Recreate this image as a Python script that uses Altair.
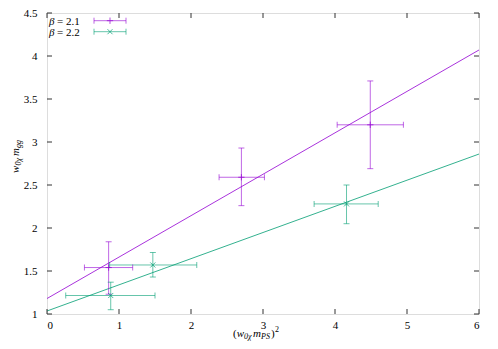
import altair as alt
import pandas as pd

# ---- data ----
labels = ["β = 2.1", "β = 2.2"]
colors = ["#9400d3", "#009e73"]

x_a = [0.856, 2.70, 4.49]
y_a = [1.54, 2.59, 3.20]
xlo_a = [0.52, 2.39, 4.03]
xhi_a = [1.19, 3.02, 4.95]
ylo_a = [1.23, 2.26, 2.69]
yhi_a = [1.84, 2.93, 3.71]

x_b = [0.885, 1.47, 4.16]
y_b = [1.215, 1.57, 2.28]
xlo_b = [0.26, 0.87, 3.71]
xhi_b = [1.50, 2.08, 4.60]
ylo_b = [1.05, 1.43, 2.05]
yhi_b = [1.37, 1.715, 2.50]

fit_x = [0, 6]
fit_a = [1.18, 4.07]
fit_b = [1.035, 2.86]

x_ticks = [0, 1, 2, 3, 4, 5, 6]
y_ticks = [1, 1.5, 2, 2.5, 3, 3.5, 4, 4.5]

W, H = 432, 301
FONT = "Liberation Serif"

rows = []
for s, xs_, ys_, xl, xh, yl, yh in [
    (labels[0], x_a, y_a, xlo_a, xhi_a, ylo_a, yhi_a),
    (labels[1], x_b, y_b, xlo_b, xhi_b, ylo_b, yhi_b),
]:
    for i in range(len(xs_)):
        rows.append(dict(s=s, x=xs_[i], y=ys_[i], xlo=xl[i], xhi=xh[i], ylo=yl[i], yhi=yh[i]))
pts = pd.DataFrame(rows)

fits = pd.DataFrame(
    [dict(s=labels[0], x=fit_x[i], y=fit_a[i]) for i in range(2)]
    + [dict(s=labels[1], x=fit_x[i], y=fit_b[i]) for i in range(2)]
)

xs = alt.Scale(domain=[0, 6], nice=False, zero=False)
ys = alt.Scale(domain=[1, 4.5], nice=False, zero=False)
cs = alt.Scale(domain=labels, range=colors)

xaxis = alt.Axis(values=x_ticks, format="~g", ticks=False, domain=False, grid=False,
                 labelFont=FONT, labelFontSize=11, labelColor="#000", labelPadding=5,
                 title=None)
yaxis = alt.Axis(values=y_ticks, format="~g", ticks=False, domain=False, grid=False,
                 labelFont=FONT, labelFontSize=11, labelColor="#000", labelPadding=10,
                 title=None)

base = alt.Chart(pts)
col = alt.Color("s:N", scale=cs, legend=None)

fit_lines = alt.Chart(fits).mark_line(strokeWidth=1, opacity=0.8, clip=True).encode(
    x=alt.X("x:Q", scale=xs, axis=xaxis),
    y=alt.Y("y:Q", scale=ys, axis=yaxis),
    color=col, detail="s:N",
)

hbar = base.mark_rule(strokeWidth=1, opacity=0.6).encode(
    x=alt.X("xlo:Q", scale=xs), x2="xhi:Q", y=alt.Y("y:Q", scale=ys), color=col)
vbar = base.mark_rule(strokeWidth=1, opacity=0.6).encode(
    x=alt.X("x:Q", scale=xs), y=alt.Y("ylo:Q", scale=ys), y2="yhi:Q", color=col)

def cap(xf, yf, orient):
    return base.mark_tick(orient=orient, size=6, thickness=1, opacity=0.6).encode(
        x=alt.X(xf, scale=xs), y=alt.Y(yf, scale=ys), color=col)

caps = [cap("xlo:Q", "y:Q", "vertical"), cap("xhi:Q", "y:Q", "vertical"),
        cap("x:Q", "ylo:Q", "horizontal"), cap("x:Q", "yhi:Q", "horizontal")]

plus_path = "M-1,0L1,0M0,-1L0,1"
cross_path = "M-0.8,-0.8L0.8,0.8M-0.8,0.8L0.8,-0.8"
markers = base.mark_point(filled=False, strokeWidth=1, size=40).encode(
    x=alt.X("x:Q", scale=xs), y=alt.Y("y:Q", scale=ys), color=col,
    shape=alt.Shape("s:N", scale=alt.Scale(domain=labels, range=[plus_path, cross_path]), legend=None),
)

# inward ticks (frame)
xt = alt.Chart(pd.DataFrame({"v": x_ticks}))
yt = alt.Chart(pd.DataFrame({"v": y_ticks}))
TC = "#333"
tick_layers = [
    xt.mark_rule(color=TC).encode(x=alt.X("v:Q", scale=xs), y=alt.value(H), y2=alt.value(H - 5)),
    xt.mark_rule(color=TC).encode(x=alt.X("v:Q", scale=xs), y=alt.value(0), y2=alt.value(5)),
    yt.mark_rule(color=TC).encode(y=alt.Y("v:Q", scale=ys), x=alt.value(0), x2=alt.value(5)),
    yt.mark_rule(color=TC).encode(y=alt.Y("v:Q", scale=ys), x=alt.value(W), x2=alt.value(W - 5)),
]

one = alt.Data(values=[{}])

def txt(t, x, y, size=11, style="normal", dx=0, dy=0, angle=0, align="left", color="#000"):
    kw = dict(text=t, font=FONT, fontSize=size, fontStyle=style, align=align,
              baseline="alphabetic", dx=dx, dy=dy, color=color)
    if angle:
        kw["angle"] = angle
    return alt.Chart(one).mark_text(**kw).encode(x=alt.value(x), y=alt.value(y))

# x title: (w_{0χ} m_{PS})^2
XT_X, XT_Y = 186, H + 23
xtitle = [
    txt("(", XT_X, XT_Y, 11, "normal", dx=0),
    txt("w", XT_X, XT_Y, 11, "italic", dx=3.7),
    txt("0χ", XT_X, XT_Y, 8, "italic", dx=11, dy=2),
    txt("m", XT_X, XT_Y, 11, "italic", dx=20),
    txt("PS", XT_X, XT_Y, 8, "italic", dx=28, dy=2),
    txt(")", XT_X, XT_Y, 11, "normal", dx=38),
    txt("2", XT_X, XT_Y, 8, "normal", dx=42, dy=-5),
]

# y title: w_{0χ} m_{gg}, rotated
YT_X, YT_Y = -28.5, 160
ytitle = [
    txt("w", YT_X, YT_Y, 11, "italic", dx=0, angle=270),
    txt("0χ", YT_X, YT_Y, 8, "italic", dx=7.5, dy=2.5, angle=270),
    txt("m", YT_X, YT_Y, 11, "italic", dx=17, angle=270),
    txt("gg", YT_X, YT_Y, 8, "italic", dx=25, dy=2.5, angle=270),
]

# legend
leg_rows = [11.7, 22.7]
leg = []
for i, (lab, c) in enumerate(zip(labels, colors)):
    yy = leg_rows[i]
    leg.append(txt("β", 2, yy, 11, "italic"))
    leg.append(txt(lab[1:].strip(), 10, yy, 11, "normal"))
    ly = yy - 4
    lc = alt.Chart(one)
    leg.append(lc.mark_rule(color=c, opacity=0.6).encode(x=alt.value(47), x2=alt.value(79), y=alt.value(ly)))
    leg.append(lc.mark_rule(color=c, opacity=0.6).encode(x=alt.value(47), y=alt.value(ly - 3), y2=alt.value(ly + 3)))
    leg.append(lc.mark_rule(color=c, opacity=0.6).encode(x=alt.value(79), y=alt.value(ly - 3), y2=alt.value(ly + 3)))
    leg.append(lc.mark_point(color=c, shape=[plus_path, cross_path][i], size=40, filled=False, strokeWidth=1)
               .encode(x=alt.value(63), y=alt.value(ly)))

chart = alt.layer(
    fit_lines, hbar, vbar, *caps, markers, *tick_layers, *xtitle, *ytitle, *leg
).properties(
    width=W, height=H,
    autosize=alt.AutoSizeParams(type="none"),
    padding={"left": 39, "top": 5, "right": 11, "bottom": 27},
).configure_view(stroke="#333", strokeWidth=1).configure(background="white")

chart.save("out.html", embed_options={"renderer": "svg", "actions": False})
